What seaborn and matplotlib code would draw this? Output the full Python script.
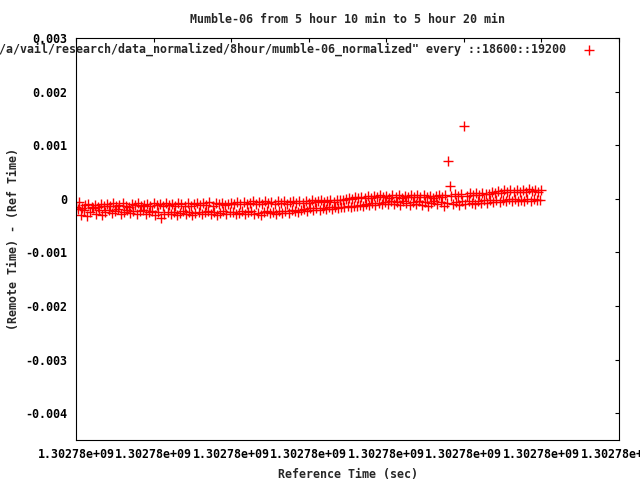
import numpy as np
import pandas as pd
import matplotlib
matplotlib.use('Agg')
import matplotlib.pyplot as plt
import seaborn as sns
from matplotlib.ticker import MultipleLocator, FuncFormatter

# Time window (unix seconds), one sample per second, shown as two interleaved bands
T0 = 1302781800
x_span = 700

# Offsets in microseconds, upper band sampled at t = 0, 4, 8, ... 600
upper_us = [
    -150, -60, -170, -110, -90, -150, -120, -160, -95, -135,
    -105, -140, -85, -135, -115, -80, -130, -150, -100, -120,
    -75, -135, -110, -90, -140, -85, -120, -100, -130, -70,
    -115, -95, -135, -80, -105, -125, -85, -130, -100, -70,
    -115, -85, -110, -65, -125, -85, -105, -70, -120, -90,
    -70, -105, -60, -95, -55, -100, -75, -50, -95, -65,
    -90, -45, -80, -60, -95, -50, -75, -40, -90, -60,
    -45, -80, -35, -70, -45, -75, -30, -60, -40, -25,
    -60, -35, -25, -55, -30, -15, -25, -5, 10, -10,
    25, 10, 35, 20, 55, 15, 45, 30, 65, 35,
    55, 20, 70, 35, 75, 15, 60, 40, 80, 25,
    65, 30, 75, 40, 60, 20, 55, 75, 35, 80,
    710,
    45, 85, 50, 95, 1350, 60, 100, 65, 105,
    70, 110, 95, 85, 135, 100, 145, 110, 155, 120,
    160, 120, 170, 135, 165, 125, 175, 140, 160, 130, 170,
]

# lower band sampled at t = 2, 6, 10, ... 598
lower_us = [
    -190, -300, -210, -330, -240, -180, -280, -215, -300, -255,
    -205, -270, -235, -195, -285, -240, -210, -265, -225, -275,
    -235, -210, -285, -250, -225, -295, -255, -350, -275, -240,
    -285, -245, -300, -260, -230, -285, -250, -305, -270, -240,
    -290, -255, -235, -285, -250, -300, -270, -230, -280, -255,
    -240, -290, -265, -235, -285, -250, -230, -280, -260, -300,
    -250, -225, -270, -245, -290, -235, -265, -230, -260, -215,
    -225, -245, -200, -190, -225, -180, -215, -175, -210, -165,
    -195, -155, -185, -150, -180, -145, -160, -130, -145, -125,
    -135, -115, -125, -100, -110, -80, -120, -70, -100, -60,
    -95, -50, -105, -60, -110, -45, -85, -120, -55, -100,
    -50, -115, -65, -125, -75, -45, -105, -60, -130, -70,
    240,
    -100, -55, -110, -45, -90, -40, -80, -105, -35,
    -75, -30, -80, -25, -60, -20, -55, -15, -50, -10,
    -40, -5, -45, -15, -35, 0, -40, -10, -30, -20,
]

upper_t = np.arange(len(upper_us)) * 4
lower_t = np.arange(len(lower_us)) * 4 + 2

title = 'Mumble-06 from 5 hour 10 min to 5 hour 20 min'
key = '/a/vail/research/data_normalized/8hour/mumble-06_normalized" every ::18600::19200'

df = pd.DataFrame({
    'time': np.concatenate([upper_t, lower_t]) + T0,
    'offset': np.array(upper_us + lower_us) * 1e-6,
})

sns.set_style('white')
plt.rcParams['font.family'] = ['DejaVu Sans Mono', 'DejaVu Sans']
plt.rcParams['font.weight'] = 'bold'
fs = 8.4

fig = plt.figure(figsize=(6.4, 4.8), dpi=100)
ax = fig.add_axes([76 / 640, 1 - 440 / 480, (619 - 76) / 640, (440 - 38) / 480])

sns.scatterplot(data=df, x='time', y='offset', marker='+', color='red',
                s=45, linewidth=1.0, ax=ax, label=key)

ax.set_xlim(T0, T0 + x_span)
ax.set_ylim(-0.0045, 0.003)
ax.xaxis.set_major_locator(MultipleLocator(100))
ax.yaxis.set_major_locator(MultipleLocator(0.001))
ax.xaxis.set_major_formatter(FuncFormatter(lambda v, p: '%g' % v))
ax.yaxis.set_major_formatter(FuncFormatter(lambda v, p: '0' if abs(v) < 1e-12 else '%g' % v))

ax.tick_params(direction='in', top=True, right=True, length=3, width=0.8,
               labelsize=fs, colors='black')
ax.tick_params(axis='x', pad=6)
ax.tick_params(axis='y', pad=6)
for s in ax.spines.values():
    s.set_color('black')
    s.set_linewidth(0.8)

ax.set_title(title, fontsize=fs, fontweight='bold', pad=11)
ax.set_xlabel('Reference Time (sec)', fontsize=fs, fontweight='bold', labelpad=5)
ax.set_ylabel('(Remote Time) - (Ref Time)', fontsize=fs, fontweight='bold', labelpad=4)

ax.legend(loc='upper right', bbox_to_anchor=(595 / 640, 1 - 43 / 480),
          bbox_transform=fig.transFigure, markerfirst=False, frameon=False,
          handlelength=1.0, handletextpad=1.5, borderpad=0, borderaxespad=0,
          prop={'size': fs, 'weight': 'bold'})

fig.savefig('out.png', dpi=100)
